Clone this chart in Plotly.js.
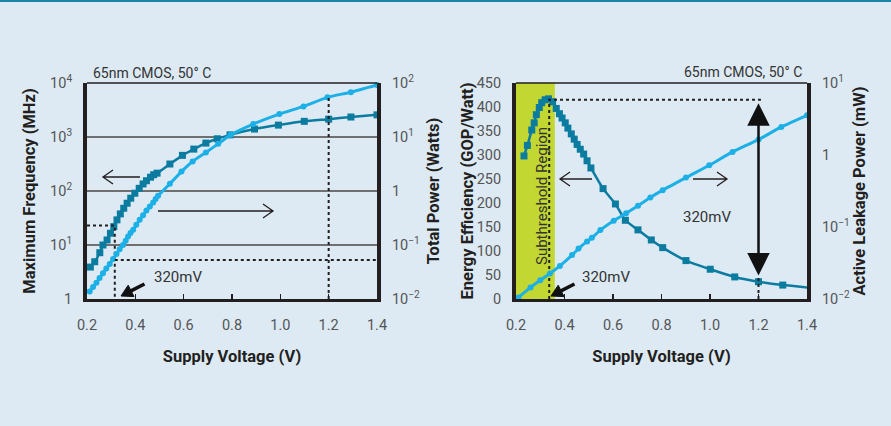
<!DOCTYPE html>
<html><head><meta charset="utf-8">
<script src="https://cdn.plot.ly/plotly-3.0.1.min.js"></script>
<style>html,body{margin:0;padding:0;background:#ddeaf4;}#chart{width:891px;height:426px;}</style>
</head><body><div id="chart"></div>
<script>
// ---- Left chart: maximum frequency (MHz) and total power (W) vs supply voltage
const freqVoltage = [0.214,0.232,0.253,0.266,0.283,0.297,0.311,0.324,0.338,0.352,0.366,0.381,0.398,0.416,0.432,0.446,0.463,0.476,0.49,0.543,0.595,0.642,0.692,0.739,0.792,0.893,0.992,1.099,1.2,1.292,1.4];
const freqMHz = [3.9,4.9,7.2,10,12.4,16.5,21.9,29.2,37.7,47.9,59.4,73.6,91,112,135,155,180,200,214,316,457,597,771,927,1096,1403,1660,1950,2138,2344,2570];
const powerVoltage = [0.211,0.225,0.239,0.252,0.266,0.28,0.294,0.308,0.322,0.335,0.349,0.36,0.37,0.38,0.391,0.404,0.418,0.432,0.446,0.46,0.474,0.484,0.494,0.543,0.591,0.637,0.692,0.743,0.795,0.888,0.996,1.096,1.195,1.292,1.4];
const powerWatts = [0.0137,0.0166,0.0201,0.0245,0.0299,0.0366,0.0446,0.0552,0.0684,0.083,0.1,0.12,0.143,0.166,0.191,0.236,0.292,0.356,0.435,0.516,0.612,0.708,0.813,1.36,2.29,3.52,5.18,7.5,11.0,17.4,26.6,36.9,54.2,67.6,91.8];
// reference guides (320 mV and 1.2 V)
const lowVoltage = 0.315, highVoltage = 1.2;
const lowFreqMHz = 23, lowPowerW = 0.053, highPowerW = 54;

// ---- Right chart: energy efficiency (GOP/W) and active leakage power (mW)
const effVoltage = [0.233,0.247,0.265,0.275,0.284,0.296,0.306,0.32,0.334,0.351,0.366,0.379,0.39,0.403,0.414,0.428,0.44,0.452,0.465,0.479,0.493,0.509,0.559,0.61,0.651,0.703,0.758,0.805,0.901,1.001,1.102,1.2,1.3,1.404];
const effGOPperW = [298,320,352,367,384,399,409,415,417,411,397,386,377,367,356,344,333,322,312,302,288,273,230,198,164,144,123,107,80,62,46,36,29,24];
const leakVoltage = [0.21,0.26,0.3,0.34,0.381,0.431,0.458,0.493,0.513,0.548,0.603,0.654,0.703,0.754,0.805,0.901,0.997,1.093,1.2,1.294,1.4];
const leakPowerMW = [0.0105,0.0145,0.0182,0.0226,0.0288,0.0407,0.0501,0.0631,0.0708,0.0906,0.122,0.155,0.197,0.257,0.325,0.486,0.721,1.104,1.637,2.455,3.565];
const peakVoltage = 0.337, peakEff = 415, effAtHigh = 46;
const subthresholdRange = [0.2, 0.36];

// ---- ticks
const xTicks = [0.2,0.4,0.6,0.8,1.0,1.2,1.4];
const xTickLabels = ['0.2','0.4','0.6','0.8','1.0','1.2','1.4'];
const freqTicks = [1,10,100,1000,10000];
const freqTickLabels = ['1','10<sup>1</sup>','10<sup>2</sup>','10<sup>3</sup>','10<sup>4</sup>'];
const powerTicks = [0.01,0.1,1,10,100];
const powerTickLabels = ['10<sup>−2</sup>','10<sup>−1</sup>','1','10<sup>1</sup>','10<sup>2</sup>'];
const effTicks = [0,50,100,150,200,250,300,350,400,450];
const leakTicks = [0.01,0.1,1,10];
const leakTickLabels = ['10<sup>−2</sup>','10<sup>−1</sup>','1','10<sup>1</sup>'];

const DARK = '#0b7ba0', LIGHT = '#1cb0e6', INK = '#231f20', TICK = '#555555';
const FONT = 'Roboto, "Open Sans", sans-serif';
const W = 891, H = 426;
const px = v => v / W, py = v => 1 - v / H;

const dotLine = {color: INK, width: 2, dash: 'dot'};
const traces = [
  {x: freqVoltage, y: freqMHz, xaxis: 'x', yaxis: 'y', mode: 'lines+markers', line: {color: DARK, width: 2.5, shape: 'spline', smoothing: 0.6}, marker: {symbol: 'square', size: 7, color: DARK}, cliponaxis: false},
  {x: powerVoltage, y: powerWatts, xaxis: 'x', yaxis: 'y2', mode: 'lines+markers', line: {color: LIGHT, width: 3, shape: 'spline', smoothing: 0.6}, marker: {symbol: 'circle', size: 6, color: LIGHT}, cliponaxis: false},
  {x: [0.2, lowVoltage, lowVoltage], y: [lowFreqMHz, lowFreqMHz, 1], xaxis: 'x', yaxis: 'y', mode: 'lines', line: dotLine},
  {x: [lowVoltage, 1.4], y: [lowPowerW, lowPowerW], xaxis: 'x', yaxis: 'y2', mode: 'lines', line: dotLine},
  {x: [highVoltage, highVoltage], y: [0.01, highPowerW], xaxis: 'x', yaxis: 'y2', mode: 'lines', line: dotLine},
  {x: effVoltage, y: effGOPperW, xaxis: 'x2', yaxis: 'y3', mode: 'lines+markers', line: {color: DARK, width: 2.5, shape: 'spline', smoothing: 0.6}, marker: {symbol: 'square', size: 7, color: DARK}, cliponaxis: false},
  {x: leakVoltage, y: leakPowerMW, xaxis: 'x2', yaxis: 'y4', mode: 'lines+markers', line: {color: LIGHT, width: 3, shape: 'spline', smoothing: 0.6}, marker: {symbol: 'circle', size: 6, color: LIGHT}, cliponaxis: false},
  {x: [peakVoltage, peakVoltage, highVoltage + 0.01], y: [0, peakEff, peakEff], xaxis: 'x2', yaxis: 'y3', mode: 'lines', line: dotLine},
  {x: [highVoltage, highVoltage], y: [0, effAtHigh], xaxis: 'x2', yaxis: 'y3', mode: 'lines', line: dotLine}
].map(t => Object.assign({showlegend: false, hoverinfo: 'skip'}, t));

const xDomL = [px(87), px(377)], xDomR = [px(516), px(807)], yDom = [py(299), py(83)];
const tickFont = {family: FONT, size: 14.5, color: TICK};
const titleFont = {family: FONT, size: 16.5, color: INK, weight: 'bold'};

function xAxis(dom, anchor) {
  return {domain: dom, anchor: anchor, range: [0.2, 1.4], tickvals: xTicks, ticktext: xTickLabels,
    ticks: 'inside', ticklen: 5, tickwidth: 1.5, tickcolor: INK, showgrid: false, zeroline: false,
    showline: true, linewidth: 3, linecolor: INK, tickfont: tickFont, ticklabelstandoff: 11,
    title: {text: 'Supply Voltage (V)', font: titleFont, standoff: 18}, fixedrange: true};
}

// filled black pointer arrow (tip at anchor, tail up-right), pixel sized
function pointer(xa, ya) {
  return [
    {type: 'path', xref: 'paper', yref: 'paper', xsizemode: 'pixel', ysizemode: 'pixel', xanchor: xa, yanchor: ya,
      path: 'M9,4.6L23.5,12', line: {color: '#111', width: 3.5}},
    {type: 'path', xref: 'paper', yref: 'paper', xsizemode: 'pixel', ysizemode: 'pixel', xanchor: xa, yanchor: ya,
      path: 'M0,0L13,-0.6L7.2,10.8Z', fillcolor: '#111', line: {color: '#111', width: 1}}
  ];
}

const layout = {
  width: W, height: H, margin: {l: 0, r: 0, t: 0, b: 0},
  paper_bgcolor: '#ddeaf4', plot_bgcolor: 'rgba(0,0,0,0)', font: {family: FONT, color: INK},
  xaxis: xAxis(xDomL, 'y'),
  xaxis2: xAxis(xDomR, 'y3'),
  yaxis: {domain: yDom, anchor: 'x', type: 'log', range: [0, 4], tickvals: freqTicks, ticktext: freqTickLabels,
    ticks: '', showgrid: true, gridcolor: '#707070', gridwidth: 1.5, zeroline: false, showline: true, linewidth: 4, linecolor: INK,
    tickfont: tickFont, ticklabelstandoff: 8, title: {text: 'Maximum Frequency (MHz)', font: titleFont, standoff: 11}},
  yaxis2: {overlaying: 'y', anchor: 'x', side: 'right', type: 'log', range: [-2, 2], tickvals: powerTicks, ticktext: powerTickLabels,
    ticks: '', showgrid: false, zeroline: false, showline: true, linewidth: 4, linecolor: INK,
    tickfont: tickFont, ticklabelstandoff: 8, title: {text: 'Total Power (Watts)', font: titleFont, standoff: 9}},
  yaxis3: {domain: yDom, anchor: 'x2', range: [0, 450], tickvals: effTicks,
    ticks: '', showgrid: false, zeroline: false, showline: true, linewidth: 4, linecolor: INK,
    tickfont: tickFont, ticklabelstandoff: 8, title: {text: 'Energy Efficiency (GOP/Watt)', font: titleFont, standoff: 0}},
  yaxis4: {overlaying: 'y3', anchor: 'x2', side: 'right', type: 'log', range: [-2, 1], tickvals: leakTicks, ticktext: leakTickLabels,
    ticks: '', showgrid: false, zeroline: false, showline: true, linewidth: 4, linecolor: INK,
    tickfont: tickFont, ticklabelstandoff: 8, title: {text: 'Active Leakage Power (mW)', font: titleFont, standoff: 5}},
  shapes: [
    {type: 'rect', xref: 'x2', yref: 'y3', x0: subthresholdRange[0], x1: subthresholdRange[1], y0: 0, y1: 450, fillcolor: '#c2d731', line: {width: 0}, layer: 'below'},
    {type: 'line', xref: 'x domain', yref: 'y domain', x0: 0, x1: 1, y0: 1, y1: 1, line: {color: INK, width: 1.5}},
    {type: 'line', xref: 'x2 domain', yref: 'y3 domain', x0: 0, x1: 1, y0: 1, y1: 1, line: {color: INK, width: 1.5}},
    {type: 'line', xref: 'paper', yref: 'paper', x0: 0, x1: 1, y0: py(1), y1: py(1), line: {color: '#1b82a8', width: 2}},
    // open arrows pointing to the axis each curve belongs to
    {type: 'path', xref: 'paper', yref: 'paper', xsizemode: 'pixel', ysizemode: 'pixel', xanchor: px(103), yanchor: py(177), path: 'M0,0L37,0M10,7L0,0L10,-7', line: {color: INK, width: 1.3}},
    {type: 'path', xref: 'paper', yref: 'paper', xsizemode: 'pixel', ysizemode: 'pixel', xanchor: px(158), yanchor: py(211), path: 'M0,0L115,0M105,7L115,0L105,-7', line: {color: INK, width: 1.3}},
    {type: 'path', xref: 'paper', yref: 'paper', xsizemode: 'pixel', ysizemode: 'pixel', xanchor: px(560), yanchor: py(179), path: 'M0,0L32,0M10,7L0,0L10,-7', line: {color: INK, width: 1.3}},
    {type: 'path', xref: 'paper', yref: 'paper', xsizemode: 'pixel', ysizemode: 'pixel', xanchor: px(693), yanchor: py(179), path: 'M0,0L34,0M24,7L34,0L24,-7', line: {color: INK, width: 1.3}}
  ].concat(pointer(px(121), py(296)), pointer(px(551), py(296))),
  annotations: [
    {xref: 'paper', yref: 'paper', x: px(91), y: py(73), xanchor: 'left', yanchor: 'middle', text: '65nm CMOS, 50° C', showarrow: false, font: {family: FONT, size: 14, color: '#333'}},
    {xref: 'paper', yref: 'paper', x: px(804), y: py(72), xanchor: 'right', yanchor: 'middle', text: '65nm CMOS, 50° C', showarrow: false, font: {family: FONT, size: 14, color: '#333'}},
    {xref: 'paper', yref: 'paper', x: px(152), y: py(277), xanchor: 'left', yanchor: 'middle', text: '320mV', showarrow: false, font: {family: FONT, size: 15, color: '#333'}},
    {xref: 'paper', yref: 'paper', x: px(580), y: py(277), xanchor: 'left', yanchor: 'middle', text: '320mV', showarrow: false, font: {family: FONT, size: 15, color: '#333'}},
    {xref: 'paper', yref: 'paper', x: px(681), y: py(217), xanchor: 'left', yanchor: 'middle', text: '320mV', showarrow: false, font: {family: FONT, size: 15, color: '#333'}},
    {xref: 'paper', yref: 'paper', x: px(542), y: py(196), xanchor: 'center', yanchor: 'middle', text: 'Subthreshold Region', textangle: -90, showarrow: false, font: {family: FONT, size: 15, color: '#333'}},
    {xref: 'x2', yref: 'y3', axref: 'x2', ayref: 'y3', x: highVoltage, y: peakEff - 7, ax: highVoltage, ay: effAtHigh, text: '', showarrow: true,
      arrowside: 'end+start', arrowhead: 2, startarrowhead: 2, arrowsize: 1.8, startarrowsize: 1.8, arrowwidth: 2.5, arrowcolor: '#111'}
  ]
};

Plotly.newPlot('chart', traces, layout, {staticPlot: true, displayModeBar: false});
</script></body></html>
